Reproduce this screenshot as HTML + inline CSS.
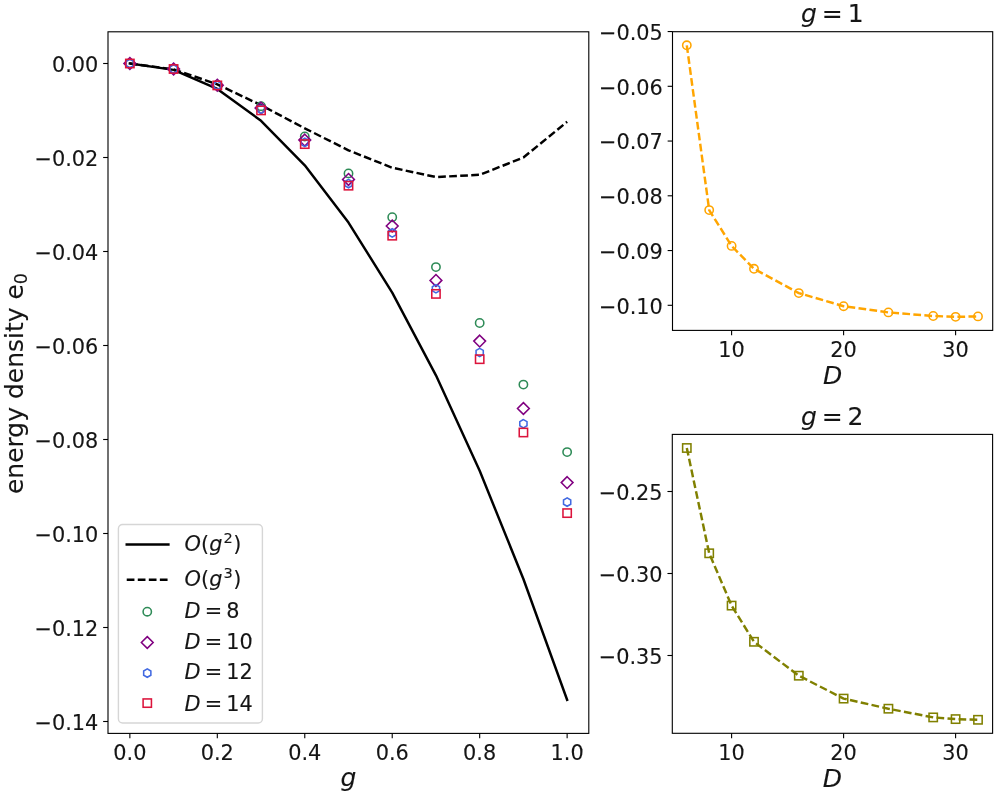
<!DOCTYPE html>
<html lang="en"><head><meta charset="utf-8"><title>energy density</title>
<style>html,body{margin:0;padding:0;background:#fff}svg{display:block}text{font-family:'DejaVu Sans', 'Liberation Sans', sans-serif;stroke:#151515;stroke-width:0.12px}</style>
</head><body>
<svg width="997" height="797" viewBox="0 0 997 797">
<rect width="997" height="797" fill="#fff"/>
<rect x="108" y="31.8" width="480.8" height="701.6" fill="#fff" stroke="#000" stroke-width="1.11"/>
<g id="ax1-lines">
<path d="M129.86 63.5L173.59 69.86L217.31 88.96L261.04 120.77L304.77 165.32L348.5 222.59L392.22 292.6L435.95 375.33L479.68 470.78L523.4 578.97L567.13 699.88" fill="none" stroke="#000" stroke-width="2.45" stroke-linecap="square" stroke-linejoin="round"/>
<path d="M129.86 63.5L173.59 69.29L217.31 84.33L261.04 105.17L304.77 128.32L348.5 150.33L392.22 167.73L435.95 177.04L479.68 174.8L523.4 157.53L567.13 121.78" fill="none" stroke="#000" stroke-width="2.45" stroke-dasharray="7.71 3.33" stroke-linejoin="round"/>
</g>
<g id="ax1-markers">
<circle cx="129.86" cy="63.5" r="4.17" fill="none" stroke="#2e8b57" stroke-width="1.55"/>
<circle cx="173.59" cy="69" r="4.17" fill="none" stroke="#2e8b57" stroke-width="1.55"/>
<circle cx="217.31" cy="85" r="4.17" fill="none" stroke="#2e8b57" stroke-width="1.55"/>
<circle cx="261.04" cy="106.2" r="4.17" fill="none" stroke="#2e8b57" stroke-width="1.55"/>
<circle cx="304.77" cy="136.5" r="4.17" fill="none" stroke="#2e8b57" stroke-width="1.55"/>
<circle cx="348.5" cy="173.4" r="4.17" fill="none" stroke="#2e8b57" stroke-width="1.55"/>
<circle cx="392.22" cy="217.2" r="4.17" fill="none" stroke="#2e8b57" stroke-width="1.55"/>
<circle cx="435.95" cy="267.1" r="4.17" fill="none" stroke="#2e8b57" stroke-width="1.55"/>
<circle cx="479.68" cy="323" r="4.17" fill="none" stroke="#2e8b57" stroke-width="1.55"/>
<circle cx="523.4" cy="384.6" r="4.17" fill="none" stroke="#2e8b57" stroke-width="1.55"/>
<circle cx="567.13" cy="452.1" r="4.17" fill="none" stroke="#2e8b57" stroke-width="1.55"/>
<path d="M129.86 57.61L135.75 63.5L129.86 69.39L123.97 63.5Z" fill="none" stroke="#800080" stroke-width="1.55"/>
<path d="M173.59 63.11L179.48 69L173.59 74.89L167.7 69Z" fill="none" stroke="#800080" stroke-width="1.55"/>
<path d="M217.31 79.31L223.2 85.2L217.31 91.09L211.42 85.2Z" fill="none" stroke="#800080" stroke-width="1.55"/>
<path d="M261.04 102.21L266.93 108.1L261.04 113.99L255.15 108.1Z" fill="none" stroke="#800080" stroke-width="1.55"/>
<path d="M304.77 134.21L310.66 140.1L304.77 145.99L298.88 140.1Z" fill="none" stroke="#800080" stroke-width="1.55"/>
<path d="M348.5 173.51L354.39 179.4L348.5 185.29L342.6 179.4Z" fill="none" stroke="#800080" stroke-width="1.55"/>
<path d="M392.22 220.11L398.11 226L392.22 231.89L386.33 226Z" fill="none" stroke="#800080" stroke-width="1.55"/>
<path d="M435.95 274.51L441.84 280.4L435.95 286.29L430.06 280.4Z" fill="none" stroke="#800080" stroke-width="1.55"/>
<path d="M479.68 335.21L485.57 341.1L479.68 346.99L473.79 341.1Z" fill="none" stroke="#800080" stroke-width="1.55"/>
<path d="M523.4 402.61L529.29 408.5L523.4 414.39L517.51 408.5Z" fill="none" stroke="#800080" stroke-width="1.55"/>
<path d="M567.13 476.71L573.02 482.6L567.13 488.49L561.24 482.6Z" fill="none" stroke="#800080" stroke-width="1.55"/>
<path d="M129.86 59.34L126.25 61.42L126.25 65.58L129.86 67.67L133.47 65.58L133.47 61.42Z" fill="none" stroke="#4169e1" stroke-width="1.55"/>
<path d="M173.59 64.83L169.98 66.92L169.98 71.08L173.59 73.17L177.19 71.08L177.19 66.92Z" fill="none" stroke="#4169e1" stroke-width="1.55"/>
<path d="M217.31 81.13L213.71 83.22L213.71 87.38L217.31 89.47L220.92 87.38L220.92 83.22Z" fill="none" stroke="#4169e1" stroke-width="1.55"/>
<path d="M261.04 105.03L257.43 107.12L257.43 111.28L261.04 113.37L264.65 111.28L264.65 107.12Z" fill="none" stroke="#4169e1" stroke-width="1.55"/>
<path d="M304.77 138.24L301.16 140.32L301.16 144.48L304.77 146.56L308.37 144.48L308.37 140.32Z" fill="none" stroke="#4169e1" stroke-width="1.55"/>
<path d="M348.5 179.44L344.89 181.52L344.89 185.68L348.5 187.76L352.1 185.68L352.1 181.52Z" fill="none" stroke="#4169e1" stroke-width="1.55"/>
<path d="M392.22 228.74L388.62 230.82L388.62 234.98L392.22 237.06L395.83 234.98L395.83 230.82Z" fill="none" stroke="#4169e1" stroke-width="1.55"/>
<path d="M435.95 284.63L432.34 286.72L432.34 290.88L435.95 292.97L439.56 290.88L439.56 286.72Z" fill="none" stroke="#4169e1" stroke-width="1.55"/>
<path d="M479.68 348.33L476.07 350.42L476.07 354.58L479.68 356.67L483.28 354.58L483.28 350.42Z" fill="none" stroke="#4169e1" stroke-width="1.55"/>
<path d="M523.4 419.53L519.8 421.62L519.8 425.78L523.4 427.87L527.01 425.78L527.01 421.62Z" fill="none" stroke="#4169e1" stroke-width="1.55"/>
<path d="M567.13 497.94L563.52 500.02L563.52 504.18L567.13 506.27L570.74 504.18L570.74 500.02Z" fill="none" stroke="#4169e1" stroke-width="1.55"/>
<rect x="125.7" y="59.34" width="8.33" height="8.33" fill="none" stroke="#dc143c" stroke-width="1.55"/>
<rect x="169.42" y="64.83" width="8.33" height="8.33" fill="none" stroke="#dc143c" stroke-width="1.55"/>
<rect x="213.15" y="81.23" width="8.33" height="8.33" fill="none" stroke="#dc143c" stroke-width="1.55"/>
<rect x="256.88" y="106.23" width="8.33" height="8.33" fill="none" stroke="#dc143c" stroke-width="1.55"/>
<rect x="300.6" y="139.94" width="8.33" height="8.33" fill="none" stroke="#dc143c" stroke-width="1.55"/>
<rect x="344.33" y="181.53" width="8.33" height="8.33" fill="none" stroke="#dc143c" stroke-width="1.55"/>
<rect x="388.06" y="231.53" width="8.33" height="8.33" fill="none" stroke="#dc143c" stroke-width="1.55"/>
<rect x="431.78" y="289.73" width="8.33" height="8.33" fill="none" stroke="#dc143c" stroke-width="1.55"/>
<rect x="475.51" y="355.03" width="8.33" height="8.33" fill="none" stroke="#dc143c" stroke-width="1.55"/>
<rect x="519.24" y="428.33" width="8.33" height="8.33" fill="none" stroke="#dc143c" stroke-width="1.55"/>
<rect x="562.97" y="508.94" width="8.33" height="8.33" fill="none" stroke="#dc143c" stroke-width="1.55"/>
</g>
<line x1="129.86" y1="733.4" x2="129.86" y2="738.26" stroke="#000" stroke-width="1.11"/>
<text x="129.86" y="759.5" font-size="20.83" text-anchor="middle" fill="#151515">0.0</text>
<line x1="217.31" y1="733.4" x2="217.31" y2="738.26" stroke="#000" stroke-width="1.11"/>
<text x="217.31" y="759.5" font-size="20.83" text-anchor="middle" fill="#151515">0.2</text>
<line x1="304.77" y1="733.4" x2="304.77" y2="738.26" stroke="#000" stroke-width="1.11"/>
<text x="304.77" y="759.5" font-size="20.83" text-anchor="middle" fill="#151515">0.4</text>
<line x1="392.22" y1="733.4" x2="392.22" y2="738.26" stroke="#000" stroke-width="1.11"/>
<text x="392.22" y="759.5" font-size="20.83" text-anchor="middle" fill="#151515">0.6</text>
<line x1="479.68" y1="733.4" x2="479.68" y2="738.26" stroke="#000" stroke-width="1.11"/>
<text x="479.68" y="759.5" font-size="20.83" text-anchor="middle" fill="#151515">0.8</text>
<line x1="567.13" y1="733.4" x2="567.13" y2="738.26" stroke="#000" stroke-width="1.11"/>
<text x="567.13" y="759.5" font-size="20.83" text-anchor="middle" fill="#151515">1.0</text>
<line x1="103.14" y1="63.5" x2="108" y2="63.5" stroke="#000" stroke-width="1.11"/>
<text x="98.3" y="71.8" font-size="20.83" text-anchor="end" fill="#151515">0.00</text>
<line x1="103.14" y1="157.5" x2="108" y2="157.5" stroke="#000" stroke-width="1.11"/>
<text x="98.3" y="165.8" font-size="20.83" text-anchor="end" fill="#151515">−0.02</text>
<line x1="103.14" y1="251.5" x2="108" y2="251.5" stroke="#000" stroke-width="1.11"/>
<text x="98.3" y="259.8" font-size="20.83" text-anchor="end" fill="#151515">−0.04</text>
<line x1="103.14" y1="345.5" x2="108" y2="345.5" stroke="#000" stroke-width="1.11"/>
<text x="98.3" y="353.8" font-size="20.83" text-anchor="end" fill="#151515">−0.06</text>
<line x1="103.14" y1="439.5" x2="108" y2="439.5" stroke="#000" stroke-width="1.11"/>
<text x="98.3" y="447.8" font-size="20.83" text-anchor="end" fill="#151515">−0.08</text>
<line x1="103.14" y1="533.5" x2="108" y2="533.5" stroke="#000" stroke-width="1.11"/>
<text x="98.3" y="541.8" font-size="20.83" text-anchor="end" fill="#151515">−0.10</text>
<line x1="103.14" y1="627.5" x2="108" y2="627.5" stroke="#000" stroke-width="1.11"/>
<text x="98.3" y="635.8" font-size="20.83" text-anchor="end" fill="#151515">−0.12</text>
<line x1="103.14" y1="721.5" x2="108" y2="721.5" stroke="#000" stroke-width="1.11"/>
<text x="98.3" y="729.8" font-size="20.83" text-anchor="end" fill="#151515">−0.14</text>
<text x="348.4" y="786.2" font-size="25.0" font-style="italic" text-anchor="middle" fill="#151515">g</text>
<g transform="translate(23.4 494.1) rotate(-90)" fill="#151515"><text x="0" y="0" font-size="25.0">energy density e</text><text x="209.8" y="3.6" font-size="17.5">0</text></g>
<rect x="118.4" y="524.5" width="144" height="198.5" rx="4.2" ry="4.2" fill="#fff" fill-opacity="0.8" stroke="#ccc" stroke-opacity="0.8" stroke-width="1.39"/>
<path d="M126.73 544.5L168.4 544.5" stroke="#000" stroke-width="2.45" stroke-linecap="square"/>
<path d="M126.73 579.7L168.4 579.7" stroke="#000" stroke-width="2.45" stroke-dasharray="7.71 3.33"/>
<circle cx="147.26" cy="611.7" r="4.17" fill="none" stroke="#2e8b57" stroke-width="1.55"/>
<path d="M147.26 636.61L153.16 642.5L147.26 648.39L141.37 642.5Z" fill="none" stroke="#800080" stroke-width="1.55"/>
<path d="M147.26 668.94L143.66 671.02L143.66 675.18L147.26 677.26L150.87 675.18L150.87 671.02Z" fill="none" stroke="#4169e1" stroke-width="1.55"/>
<rect x="143.1" y="698.94" width="8.33" height="8.33" fill="none" stroke="#dc143c" stroke-width="1.55"/>
<g fill="#151515" font-size="20.83"><text x="184.6" y="551.4" font-style="italic">O</text><text x="201.03" y="551.4">(</text><text x="209.18" y="551.4" font-style="italic">g</text><text x="223.4" y="543.37" font-size="14.58">2</text><text x="233.27" y="551.4">)</text></g>
<g fill="#151515" font-size="20.83"><text x="184.6" y="586.1" font-style="italic">O</text><text x="201.03" y="586.1">(</text><text x="209.18" y="586.1" font-style="italic">g</text><text x="223.4" y="578.07" font-size="14.58">3</text><text x="233.27" y="586.1">)</text></g>
<g fill="#151515" font-size="20.83"><text x="184.6" y="617.6" font-style="italic">D</text><text x="204.74" y="617.6">=</text><text x="226.3" y="617.6">8</text></g>
<g fill="#151515" font-size="20.83"><text x="184.6" y="648.5" font-style="italic">D</text><text x="204.74" y="648.5">=</text><text x="226.3" y="648.5">10</text></g>
<g fill="#151515" font-size="20.83"><text x="184.6" y="679.2" font-style="italic">D</text><text x="204.74" y="679.2">=</text><text x="226.3" y="679.2">12</text></g>
<g fill="#151515" font-size="20.83"><text x="184.6" y="710.6" font-style="italic">D</text><text x="204.74" y="710.6">=</text><text x="226.3" y="710.6">14</text></g>
<rect x="672.5" y="31.7" width="320.2" height="298.7" fill="#fff" stroke="#000" stroke-width="1.11"/>
<path d="M686.8 45.3L709.2 210.1L731.6 245.9L754 268.8L798.8 293.1L843.6 306.2L888.4 312.4L933.2 316L955.6 316.85L978 316.4" fill="none" stroke="#ffa500" stroke-width="2.45" stroke-dasharray="7.71 3.33" stroke-linejoin="round"/>
<circle cx="686.8" cy="45.3" r="4.17" fill="none" stroke="#ffa500" stroke-width="1.55"/>
<circle cx="709.2" cy="210.1" r="4.17" fill="none" stroke="#ffa500" stroke-width="1.55"/>
<circle cx="731.6" cy="245.9" r="4.17" fill="none" stroke="#ffa500" stroke-width="1.55"/>
<circle cx="754" cy="268.8" r="4.17" fill="none" stroke="#ffa500" stroke-width="1.55"/>
<circle cx="798.8" cy="293.1" r="4.17" fill="none" stroke="#ffa500" stroke-width="1.55"/>
<circle cx="843.6" cy="306.2" r="4.17" fill="none" stroke="#ffa500" stroke-width="1.55"/>
<circle cx="888.4" cy="312.4" r="4.17" fill="none" stroke="#ffa500" stroke-width="1.55"/>
<circle cx="933.2" cy="316" r="4.17" fill="none" stroke="#ffa500" stroke-width="1.55"/>
<circle cx="955.6" cy="316.85" r="4.17" fill="none" stroke="#ffa500" stroke-width="1.55"/>
<circle cx="978" cy="316.4" r="4.17" fill="none" stroke="#ffa500" stroke-width="1.55"/>
<line x1="731.6" y1="330.4" x2="731.6" y2="335.26" stroke="#000" stroke-width="1.11"/>
<text x="731.6" y="356.6" font-size="20.83" text-anchor="middle" fill="#151515">10</text>
<line x1="843.6" y1="330.4" x2="843.6" y2="335.26" stroke="#000" stroke-width="1.11"/>
<text x="843.6" y="356.6" font-size="20.83" text-anchor="middle" fill="#151515">20</text>
<line x1="955.6" y1="330.4" x2="955.6" y2="335.26" stroke="#000" stroke-width="1.11"/>
<text x="955.6" y="356.6" font-size="20.83" text-anchor="middle" fill="#151515">30</text>
<line x1="667.64" y1="31.55" x2="672.5" y2="31.55" stroke="#000" stroke-width="1.11"/>
<text x="662.8" y="39.85" font-size="20.83" text-anchor="end" fill="#151515">−0.05</text>
<line x1="667.64" y1="86.3" x2="672.5" y2="86.3" stroke="#000" stroke-width="1.11"/>
<text x="662.8" y="94.6" font-size="20.83" text-anchor="end" fill="#151515">−0.06</text>
<line x1="667.64" y1="141.05" x2="672.5" y2="141.05" stroke="#000" stroke-width="1.11"/>
<text x="662.8" y="149.35" font-size="20.83" text-anchor="end" fill="#151515">−0.07</text>
<line x1="667.64" y1="195.8" x2="672.5" y2="195.8" stroke="#000" stroke-width="1.11"/>
<text x="662.8" y="204.1" font-size="20.83" text-anchor="end" fill="#151515">−0.08</text>
<line x1="667.64" y1="250.55" x2="672.5" y2="250.55" stroke="#000" stroke-width="1.11"/>
<text x="662.8" y="258.85" font-size="20.83" text-anchor="end" fill="#151515">−0.09</text>
<line x1="667.64" y1="305.3" x2="672.5" y2="305.3" stroke="#000" stroke-width="1.11"/>
<text x="662.8" y="313.6" font-size="20.83" text-anchor="end" fill="#151515">−0.10</text>
<text x="832.6" y="383.7" font-size="25.0" font-style="italic" text-anchor="middle" fill="#151515">D</text>
<g fill="#151515" font-size="25.0"><text x="801.1" y="22.3" font-style="italic">g</text><text x="821.84" y="22.3">=</text><text x="847.66" y="22.3">1</text></g>
<rect x="672.3" y="434.4" width="320.3" height="298.9" fill="#fff" stroke="#000" stroke-width="1.11"/>
<path d="M686.8 448L709.2 553.3L731.6 605.6L754 641.8L798.8 675.7L843.6 698.6L888.4 708.7L933.2 717.4L955.6 719.1L978 719.8" fill="none" stroke="#808000" stroke-width="2.45" stroke-dasharray="7.71 3.33" stroke-linejoin="round"/>
<rect x="682.63" y="443.83" width="8.33" height="8.33" fill="none" stroke="#808000" stroke-width="1.55"/>
<rect x="705.03" y="549.13" width="8.33" height="8.33" fill="none" stroke="#808000" stroke-width="1.55"/>
<rect x="727.43" y="601.44" width="8.33" height="8.33" fill="none" stroke="#808000" stroke-width="1.55"/>
<rect x="749.84" y="637.63" width="8.33" height="8.33" fill="none" stroke="#808000" stroke-width="1.55"/>
<rect x="794.63" y="671.54" width="8.33" height="8.33" fill="none" stroke="#808000" stroke-width="1.55"/>
<rect x="839.43" y="694.44" width="8.33" height="8.33" fill="none" stroke="#808000" stroke-width="1.55"/>
<rect x="884.24" y="704.54" width="8.33" height="8.33" fill="none" stroke="#808000" stroke-width="1.55"/>
<rect x="929.03" y="713.24" width="8.33" height="8.33" fill="none" stroke="#808000" stroke-width="1.55"/>
<rect x="951.43" y="714.94" width="8.33" height="8.33" fill="none" stroke="#808000" stroke-width="1.55"/>
<rect x="973.84" y="715.63" width="8.33" height="8.33" fill="none" stroke="#808000" stroke-width="1.55"/>
<line x1="731.6" y1="733.3" x2="731.6" y2="738.16" stroke="#000" stroke-width="1.11"/>
<text x="731.6" y="759.5" font-size="20.83" text-anchor="middle" fill="#151515">10</text>
<line x1="843.6" y1="733.3" x2="843.6" y2="738.16" stroke="#000" stroke-width="1.11"/>
<text x="843.6" y="759.5" font-size="20.83" text-anchor="middle" fill="#151515">20</text>
<line x1="955.6" y1="733.3" x2="955.6" y2="738.16" stroke="#000" stroke-width="1.11"/>
<text x="955.6" y="759.5" font-size="20.83" text-anchor="middle" fill="#151515">30</text>
<line x1="667.44" y1="491.5" x2="672.3" y2="491.5" stroke="#000" stroke-width="1.11"/>
<text x="662.6" y="499.8" font-size="20.83" text-anchor="end" fill="#151515">−0.25</text>
<line x1="667.44" y1="573.5" x2="672.3" y2="573.5" stroke="#000" stroke-width="1.11"/>
<text x="662.6" y="581.8" font-size="20.83" text-anchor="end" fill="#151515">−0.30</text>
<line x1="667.44" y1="655.5" x2="672.3" y2="655.5" stroke="#000" stroke-width="1.11"/>
<text x="662.6" y="663.8" font-size="20.83" text-anchor="end" fill="#151515">−0.35</text>
<text x="832.45" y="786.5" font-size="25.0" font-style="italic" text-anchor="middle" fill="#151515">D</text>
<g fill="#151515" font-size="25.0"><text x="800.95" y="425" font-style="italic">g</text><text x="821.69" y="425">=</text><text x="847.51" y="425">2</text></g>
</svg>
</body></html>
